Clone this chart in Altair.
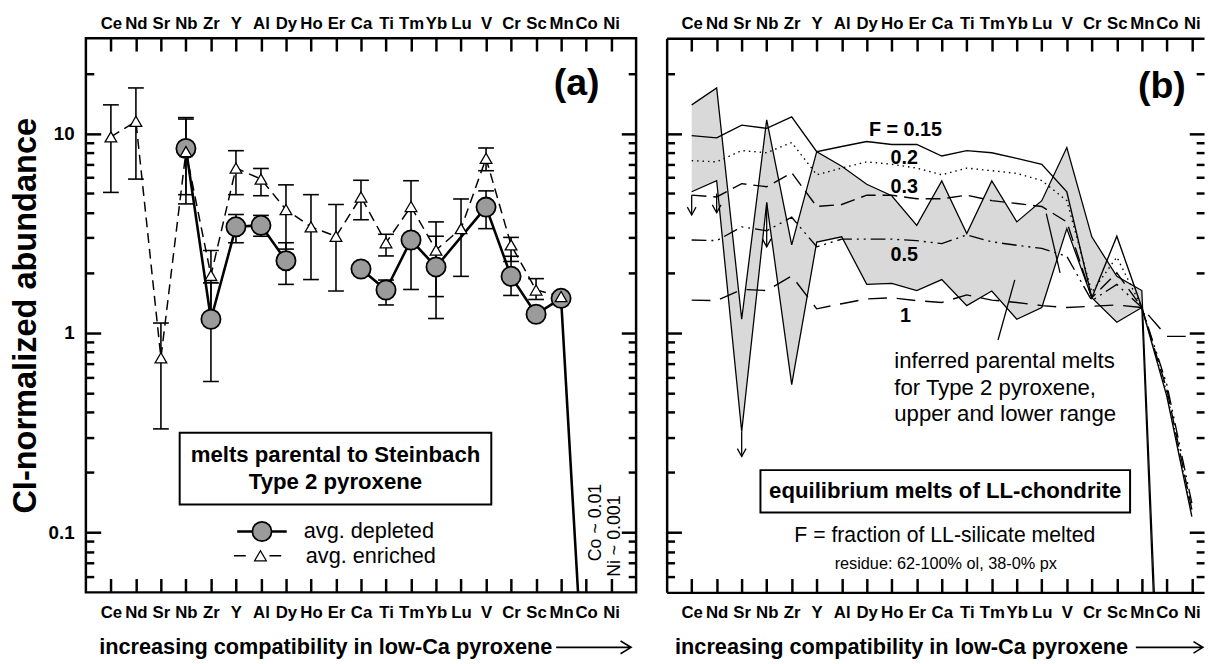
import json
import altair as alt
import pandas as pd

# ---------------- data ----------------
elements = ["Ce", "Nd", "Sr", "Nb", "Zr", "Y", "Al", "Dy", "Ho", "Er", "Ca",
            "Ti", "Tm", "Yb", "Lu", "V", "Cr", "Sc", "Mn", "Co", "Ni"]
positions = list(range(1, len(elements) + 1))

# panel (a): melts parental to Steinbach Type 2 pyroxene
enriched = [9.6, 11.5, 0.75, 8.1, 1.94, 6.7, 5.9, 4.15, 3.4, 3.05, 4.8,
            2.83, 4.3, 2.6, 3.33, 7.5, 2.76, 1.64, 1.52, None, None]
enriched_lo = [5.06, 5.9, 0.33, 4.43, 1.22, 4.93, 4.87, 2.63, 1.85, 1.62, 3.69,
               2.43, 1.65, 1.18, 1.92, 6.5, 2.28, 1.47, None, None, None]
enriched_hi = [13.9, 16.9, 1.12, 12.0, 2.59, 8.19, 6.67, 5.52, 4.93, 4.4, 5.82,
               3.12, 5.79, 3.05, 4.69, 8.45, 3.01, 1.87, None, None, None]
depleted = [None, None, None, 8.4, 1.17, 3.40, 3.46, 2.30, None, None, 2.09,
            1.64, 2.92, 2.14, None, 4.27, 1.92, 1.24, 1.49, 0.01, 0.001]
depleted_lo = [None, None, None, 4.93, 0.57, 2.83, 3.05, 1.75, None, None, 1.98,
               1.38, None, 1.52, None, 3.33, 1.54, 1.18, None, None, None]
depleted_hi = [None, None, None, 11.8, 1.78, 3.92, 3.88, 2.83, None, None, 2.20,
               1.84, None, 3.60, None, 5.15, 2.42, 1.30, None, None, None]
depleted_run = [None, None, None, 1, 1, 1, 1, 1, None, None, 2,
                2, 2, 2, None, 2, 2, 2, 2, 2, 2]

# panel (b): equilibrium melts of LL-chondrite
range_upper = [13.9, 16.9, 1.17, 11.7, 2.76, 8.1, 6.85, 5.56, 4.87, 3.46, 5.78,
               3.15, 5.78, 3.6, 4.6, 8.5, 3.03, 1.92, 1.63, 0.0015, None]
range_lower = [5.1, 5.8, 0.32, 4.5, 0.55, 2.85, 3.03, 1.75, 1.77, 1.63, 1.85,
               1.37, 1.62, 1.17, 1.34, 3.33, 1.50, 1.13, 1.34, 0.001, None]
melt_f015 = [9.75, 9.5, 11.0, 10.6, 12.1, 8.1, 8.6, 9.1, 8.8, 8.8, 7.7,
             8.2, 8.0, 7.5, 7.0, 5.1, 1.5, 3.05, 1.34, 0.48, 0.12]
melt_f02 = [7.3, 7.2, 8.2, 8.0, 9.0, 6.2, 6.7, 7.2, 7.0, 6.7, 6.2,
            6.7, 6.5, 6.3, 5.8, 4.6, 1.6, 2.4, 1.34, 0.5, 0.125]
melt_f03 = [4.9, 4.8, 5.6, 5.4, 6.35, 4.3, 4.4, 4.9, 4.9, 4.7, 4.7,
            4.9, 4.6, 4.45, 4.3, 3.6, 1.5, 2.0, 1.34, 0.52, 0.13]
melt_f05 = [2.92, 2.9, 3.4, 3.25, 3.8, 2.7, 2.95, 2.95, 2.95, 2.9, 2.8,
            3.1, 2.86, 2.75, 2.65, 2.42, 1.45, 1.75, 1.34, 0.55, 0.14]
melt_f1 = [1.46, 1.45, 1.65, 1.63, 1.93, 1.32, 1.40, 1.48, 1.50, 1.45, 1.42,
           1.55, 1.46, 1.42, 1.37, 1.34, 1.36, 1.38, 1.34, 0.96, 0.96]
limit_elements = ["Ce", "Nd", "Sr", "Nb"]
limit_from = [4.9, 5.0, 0.32, 4.5]
limit_to = [3.9, 4.0, 0.24, 2.7]

# ---------------- layout ----------------
FONT = "Liberation Sans"
W_A, W_B, H = 558, 545, 562
UNIT = W_A / 22.0
xa = alt.Scale(domain=[0, 22], nice=False, zero=False)
xb = alt.Scale(domain=[0, W_B / UNIT], nice=False, zero=False)
ys = alt.Scale(type="log", domain=[0.05, 30], nice=False)

major = [0.1, 1, 10]
minor = [0.06, 0.07, 0.08, 0.09, 0.2, 0.3, 0.4, 0.5, 0.6, 0.7, 0.8, 0.9,
         2, 3, 4, 5, 6, 7, 8, 9, 20]
label_expr = json.dumps(elements) + "[datum.value - 1]"

df_a = pd.DataFrame({"pos": positions, "el": elements,
                     "enr": enriched, "enr_lo": enriched_lo, "enr_hi": enriched_hi,
                     "dep": depleted, "dep_lo": depleted_lo, "dep_hi": depleted_hi,
                     "run": depleted_run})
df_b = pd.DataFrame({"pos": positions, "el": elements,
                     "up": range_upper, "lo": range_lower,
                     "f015": melt_f015, "f02": melt_f02, "f03": melt_f03,
                     "f05": melt_f05, "f1": melt_f1})
df_lim = pd.DataFrame({"pos": [elements.index(e) + 1 for e in limit_elements],
                       "frm": limit_from, "to": limit_to})


def X(field, scale):
    return alt.X(field, type="quantitative", scale=scale, axis=None)


def Y(field):
    return alt.Y(field, type="quantitative", scale=ys, axis=None)


def axis_layers(xscale, W, title_x, y_labels, frame_by_axes):
    dummy = alt.Chart(pd.DataFrame({"ax": [1.0], "ay": [1.0]})).mark_point(opacity=0)
    tk = dict(domain=False, grid=False, labels=False, ticks=True, tickColor="black",
              tickWidth=2.5, title=None, zindex=1)
    dom = dict(domain=True, domainColor="black", domainWidth=2.5) if frame_by_axes \
        else dict(domain=False)
    lab = dict(values=positions, labelExpr=label_expr, ticks=False, tickSize=0,
               grid=False, labelFont=FONT, labelFontSize=17,
               labelFontWeight="bold", labelColor="black", labelOverlap=False,
               labelFlush=False, labelBound=False, zindex=1, **dom)
    tk_left = dict(tk)
    if frame_by_axes:
        tk_left.update(dom)
    x_axes = [
        alt.Axis(orient="bottom", labelPadding=12,
                 title="increasing compatibility in low-Ca pyroxene",
                 titleFont=FONT, titleFontSize=22, titleFontWeight="bold",
                 titleColor="black", titleAnchor="start", titleAlign="left",
                 titleBaseline="alphabetic", titleX=title_x, titleY=62, **lab),
        alt.Axis(orient="top", labelPadding=6, title=None, **lab),
        alt.Axis(orient="top", offset=-H, values=positions, tickSize=14, **tk),
        alt.Axis(orient="bottom", offset=-H, values=positions, tickSize=13, **tk),
        None,
    ]
    y_axes = [
        alt.Axis(orient="left", values=major, format="~g", ticks=False, tickSize=0,
                 domain=False, grid=False, labelFont=FONT, labelFontSize=19,
                 labelFontWeight="bold", labelColor="black", labelPadding=12,
                 labelOverlap=False, title="CI-normalized abundance", titleFont=FONT,
                 titleFontSize=33, titleFontWeight="bold", titleColor="black",
                 titlePadding=6) if y_labels else None,
        alt.Axis(orient="right", offset=-W, values=major, tickSize=15, **tk_left),
        alt.Axis(orient="right", offset=-W, values=minor, tickSize=8, **tk),
        alt.Axis(orient="left", offset=-W, values=major, tickSize=15, **tk),
        alt.Axis(orient="left", offset=-W, values=minor, tickSize=8, **tk),
    ]
    out = []
    for xa_, ya_ in zip(x_axes, y_axes):
        out.append(dummy.encode(
            x=alt.X("ax:Q", scale=xscale, axis=xa_),
            y=alt.Y("ay:Q", scale=ys, axis=ya_)))
    return out


def texts(rows, xscale, **kw):
    df = pd.DataFrame(rows, columns=["tx", "ty", "label"])
    return alt.Chart(df).mark_text(font=FONT, color="black", **kw).encode(
        x=X("tx", xscale), y=Y("ty"), text="label:N")


def title_arrow(xscale, cx, half):
    df = pd.DataFrame({"tx": [cx], "ty": [0.0265]})
    return alt.Chart(df).mark_point(
        shape="M-1,0L1,0M0.72,-0.17L1,0L0.72,0.17", size=(2 * half) ** 2, filled=False,
        stroke="black", strokeWidth=1.6, opacity=1).encode(x=X("tx", xscale), y=Y("ty"))


# ---------------- panel (a) ----------------
layers_a = []
for lo, hi, flt in [("enr_lo", "enr_hi", "isValid(datum.enr_lo)"),
                    ("dep_lo", "dep_hi", "isValid(datum.dep_lo)")]:
    base = alt.Chart(df_a).transform_filter(flt)
    layers_a.append(base.mark_rule(color="black", strokeWidth=1.6).encode(
        x=X("pos", xa), y=Y(lo), y2=alt.Y2(hi)))
    for f in (lo, hi):
        layers_a.append(base.mark_tick(orient="horizontal", size=16, thickness=1.6,
                                       color="black", opacity=1).encode(x=X("pos", xa), y=Y(f)))

layers_a.append(alt.Chart(df_a).transform_filter("isValid(datum.enr)").mark_line(
    color="black", strokeWidth=1.5, strokeDash=[10, 6]).encode(x=X("pos", xa), y=Y("enr")))
layers_a.append(alt.Chart(df_a).transform_filter("isValid(datum.dep)").mark_line(
    color="black", strokeWidth=2.6, clip=True).encode(
        x=X("pos", xa), y=Y("dep"), detail="run:N"))
layers_a.append(alt.Chart(df_a).transform_filter("isValid(datum.dep) && datum.dep > 0.05").mark_point(
    shape="circle", filled=True, fill="#9b9b9b", stroke="black", strokeWidth=1.8,
    size=380, opacity=1).encode(x=X("pos", xa), y=Y("dep")))
layers_a.append(alt.Chart(df_a).transform_filter("isValid(datum.enr)").mark_point(
    shape="triangle-up", filled=True, fill="white", stroke="black", strokeWidth=1.3,
    size=140, opacity=1).encode(x=X("pos", xa), y=Y("enr")))

# box + legend
box_a = pd.DataFrame({"x1": [3.75], "x2": [16.21], "y1": [0.138], "y2": [0.316]})
layers_a.append(alt.Chart(box_a).mark_rect(fill="white", stroke="black", strokeWidth=2).encode(
    x=X("x1", xa), x2="x2", y=Y("y1"), y2="y2"))
layers_a.append(texts([(9.98, 0.243, "melts parental to Steinbach"),
                       (9.98, 0.179, "Type 2 pyroxene")], xa,
                      fontSize=22.5, fontWeight="bold"))
leg = pd.DataFrame({"x1": [6.05, 5.92], "x2": [8.03, 7.81], "ly": [0.101, 0.0763],
                    "dash": ["solid", "dash"]})
layers_a.append(alt.Chart(leg).transform_filter("datum.dash == 'solid'").mark_rule(
    color="black", strokeWidth=2.6).encode(x=X("x1", xa), x2="x2", y=Y("ly")))
layers_a.append(alt.Chart(leg).transform_filter("datum.dash == 'dash'").mark_rule(
    color="black", strokeWidth=1.5, strokeDash=[12, 24]).encode(x=X("x1", xa), x2="x2", y=Y("ly")))
legm = pd.DataFrame({"mx": [7.04], "my": [0.101]})
layers_a.append(alt.Chart(legm).mark_point(
    shape="circle", filled=True, fill="#9b9b9b", stroke="black", strokeWidth=1.8,
    size=380, opacity=1).encode(x=X("mx", xa), y=Y("my")))
legt = pd.DataFrame({"mx": [6.98], "my": [0.0763]})
layers_a.append(alt.Chart(legt).mark_point(
    shape="triangle-up", filled=True, fill="white", stroke="black", strokeWidth=1.3,
    size=140, opacity=1).encode(x=X("mx", xa), y=Y("my")))
layers_a.append(texts([(8.71, 0.101, "avg. depleted"), (8.79, 0.0763, "avg. enriched")], xa,
                      fontSize=22, align="left"))
layers_a.append(texts([(20.38, 0.112, "Co ~ 0.01"), (21.17, 0.0957, "Ni ~ 0.001")], xa,
                      fontSize=18, angle=270))
layers_a.append(texts([(19.62, 17.6, "(a)")], xa, fontSize=38, fontWeight="bold"))
layers_a.append(title_arrow(xa, 20.3, 38))

panel_a = alt.layer(*(axis_layers(xa, W_A, 13, True, False) + layers_a)).resolve_axis(
    x="independent", y="independent").properties(width=W_A, height=H)

# ---------------- panel (b) ----------------
layers_b = []
rng = alt.Chart(df_b).transform_filter("isValid(datum.up) && isValid(datum.lo)")
layers_b.append(rng.mark_area(color="#d9d9d9", opacity=1, clip=True).encode(
    x=X("pos", xb), y=Y("lo"), y2=alt.Y2("up")))
for f in ("up", "lo"):
    layers_b.append(rng.mark_line(color="black", strokeWidth=1.3, clip=True).encode(
        x=X("pos", xb), y=Y(f)))
for f, dash in [("f015", None), ("f02", [1.5, 4]), ("f03", [15, 7]),
                ("f05", [15, 5, 2, 5, 2, 5]), ("f1", [19, 10])]:
    kw = dict(color="black", strokeWidth=1.4, clip=True)
    if dash:
        kw["strokeDash"] = dash
    layers_b.append(alt.Chart(df_b).mark_line(**kw).encode(x=X("pos", xb), y=Y(f)))

layers_b.append(alt.Chart(df_lim).mark_rule(color="black", strokeWidth=1.3).encode(
    x=X("pos", xb), y=Y("frm"), y2=alt.Y2("to")))
layers_b.append(alt.Chart(df_lim).mark_point(
    shape="M-0.55,-1L0,0L0.55,-1", size=256, filled=False, stroke="black",
    strokeWidth=1.3, opacity=1).encode(x=X("pos", xb), y=Y("to")))

layers_b.append(texts([(9.55, 10.4, "F = 0.15"), (9.5, 7.56, "0.2"), (9.5, 5.38, "0.3"),
                       (9.5, 2.45, "0.5"), (9.55, 1.22, "1")], xb,
                      fontSize=20, fontWeight="bold"))
lead = pd.DataFrame({"x1": [13.25, 15.18], "x2": [13.92, 15.73],
                     "y1": [0.921, 3.96], "y2": [1.845, 2.0]})
layers_b.append(alt.Chart(lead).mark_rule(color="black", strokeWidth=1.3).encode(
    x=X("x1", xb), x2="x2", y=Y("y1"), y2="y2"))
layers_b.append(texts([(9.1, 0.718, "inferred parental melts"),
                       (9.1, 0.528, "for Type 2 pyroxene,"),
                       (9.1, 0.392, "upper and lower range")], xb,
                      fontSize=22.5, align="left"))
box_b = pd.DataFrame({"x1": [3.75], "x2": [18.53], "y1": [0.1257], "y2": [0.205]})
layers_b.append(alt.Chart(box_b).mark_rect(fill="white", stroke="black", strokeWidth=2).encode(
    x=X("x1", xb), x2="x2", y=Y("y1"), y2="y2"))
layers_b.append(texts([(11.14, 0.1615, "equilibrium melts of LL-chondrite")], xb,
                      fontSize=22.5, fontWeight="bold"))
layers_b.append(texts([(11.12, 0.0957, "F = fraction of LL-silicate melted")], xb, fontSize=21.5))
layers_b.append(texts([(11.16, 0.0695, "residue: 62-100% ol, 38-0% px")], xb, fontSize=16.5))
layers_b.append(texts([(19.8, 17.0, "(b)")], xb, fontSize=38, fontWeight="bold"))
layers_b.append(title_arrow(xb, 20.1, 34))

panel_b = alt.layer(*(axis_layers(xb, W_B, 8, False, True) + layers_b)).resolve_axis(
    x="independent", y="independent").properties(
    width=W_B, height=H, view=alt.ViewBackground(strokeOpacity=0))

chart = alt.hconcat(panel_a, panel_b, spacing=26).resolve_scale(
    x="independent", y="independent").configure_view(
    stroke="black", strokeWidth=2.5).properties(padding=0, background="white")

chart.save("out.html", embed_options={"renderer": "svg", "actions": False})
